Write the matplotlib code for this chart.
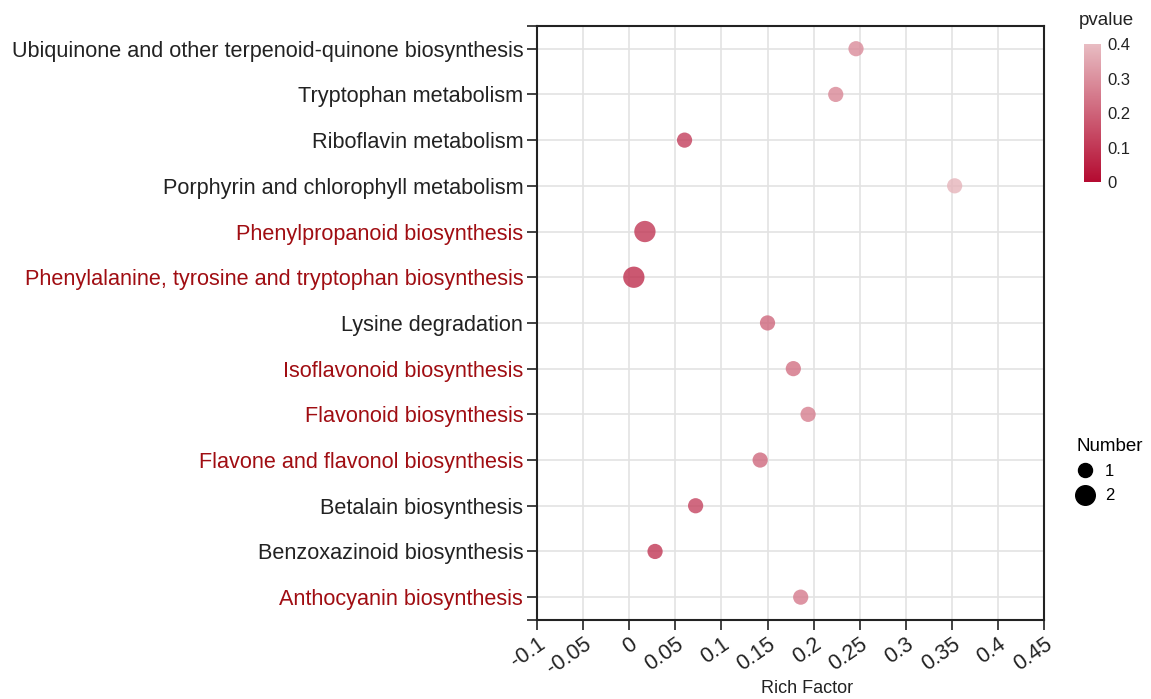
import matplotlib.pyplot as plt
from matplotlib.colors import LinearSegmentedColormap, Normalize
from matplotlib.lines import Line2D
import matplotlib.cm as cm

plt.rcParams['font.family'] = ['Liberation Sans', 'DejaVu Sans']

# データ（上から下の順）
pathways = [
    'Ubiquinone and other terpenoid-quinone biosynthesis',
    'Tryptophan metabolism',
    'Riboflavin metabolism',
    'Porphyrin and chlorophyll metabolism',
    'Phenylpropanoid biosynthesis',
    'Phenylalanine, tyrosine and tryptophan biosynthesis',
    'Lysine degradation',
    'Isoflavonoid biosynthesis',
    'Flavonoid biosynthesis',
    'Flavone and flavonol biosynthesis',
    'Betalain biosynthesis',
    'Benzoxazinoid biosynthesis',
    'Anthocyanin biosynthesis',
]
rich_factor = [0.246, 0.224, 0.060, 0.353, 0.017, 0.005, 0.150,
               0.178, 0.194, 0.142, 0.072, 0.028, 0.186]
pvalue = [0.29, 0.28, 0.12, 0.38, 0.10, 0.08, 0.21,
          0.23, 0.26, 0.21, 0.13, 0.10, 0.25]
number = [1, 1, 1, 1, 2, 2, 1, 1, 1, 1, 1, 1, 1]
highlight = [False, False, False, False, True, True, False,
             True, True, True, False, False, True]
x_ticks = [-0.1, -0.05, 0, 0.05, 0.1, 0.15, 0.2, 0.25, 0.3, 0.35, 0.4, 0.45]
x_tick_labels = ['-0.1', '-0.05', '0', '0.05', '0.1', '0.15', '0.2',
                 '0.25', '0.3', '0.35', '0.4', '0.45']

cmap = LinearSegmentedColormap.from_list('pv', ['#b40a30', '#e8bcc2'])
norm = Normalize(vmin=0, vmax=0.4)
size_map = {1: 120, 2: 235}

fig = plt.figure(figsize=(11.51, 6.99), dpi=100)
ax = fig.add_axes([0.4666, 0.113, 0.4405, 0.850])

n = len(pathways)
y_pos = [n - 1 - i for i in range(n)]
sizes = [size_map[v] for v in number]
ax.scatter(rich_factor, y_pos, s=sizes, c=pvalue, cmap=cmap, norm=norm,
           alpha=0.8, edgecolors='none', zorder=3)

# 軸の設定
ax.set_xlim(-0.1, 0.45)
ax.set_ylim(-0.5, n - 0.5)
ax.set_xticks(x_ticks)
ax.set_xticklabels(x_tick_labels, rotation=35, ha='right',
                   rotation_mode='anchor', fontsize=15.5, color='#222222')
ax.set_yticks(y_pos)
ax.set_yticklabels(pathways, fontsize=15.6)
for lbl, hl in zip(ax.get_yticklabels(), highlight):
    lbl.set_color('#a00d12' if hl else '#222222')
ax.set_yticks([-0.5, n - 0.5], minor=True)
ax.tick_params(axis='y', which='minor', length=7, width=1.2, color='#222222')
ax.tick_params(axis='both', which='major', length=7, width=1.2,
               color='#222222', pad=3)
ax.grid(True, color='#e3e3e3', linewidth=1.2, zorder=0)
ax.set_axisbelow(True)
for sp in ax.spines.values():
    sp.set_linewidth(1.5)
    sp.set_color('#222222')
fig.text(0.701, 0.015, 'Rich Factor', fontsize=13, ha='center',
         va='center', color='#222222')

# カラーバー
cax = fig.add_axes([0.9415, 0.739, 0.0148, 0.198])
cb = fig.colorbar(cm.ScalarMappable(norm=norm, cmap=cmap), cax=cax)
cb.set_ticks([0, 0.1, 0.2, 0.3, 0.4])
cb.set_ticklabels(['0', '0.1', '0.2', '0.3', '0.4'])
cb.ax.tick_params(labelsize=12, length=3, width=0.8, color='#ffffff',
                  labelcolor='#222222', pad=2)
cb.outline.set_visible(False)
fig.text(0.961, 0.970, 'pvalue', fontsize=13.5, ha='center', va='center',
         color='#222222')

# サイズ凡例
handles = [Line2D([], [], marker='o', linestyle='none', color='black',
                  markersize=size_map[v] ** 0.5 * 0.92, label=str(v))
           for v in [1, 2]]
leg = fig.legend(handles=handles, title='Number', loc='upper left',
                 bbox_to_anchor=(0.925, 0.39), frameon=False, fontsize=12,
                 title_fontsize=13.5, handletextpad=0.7, labelspacing=0.55,
                 borderpad=0.2, handlelength=1.0)
leg._legend_box.align = 'left'

plt.savefig('out.png', dpi=100)
